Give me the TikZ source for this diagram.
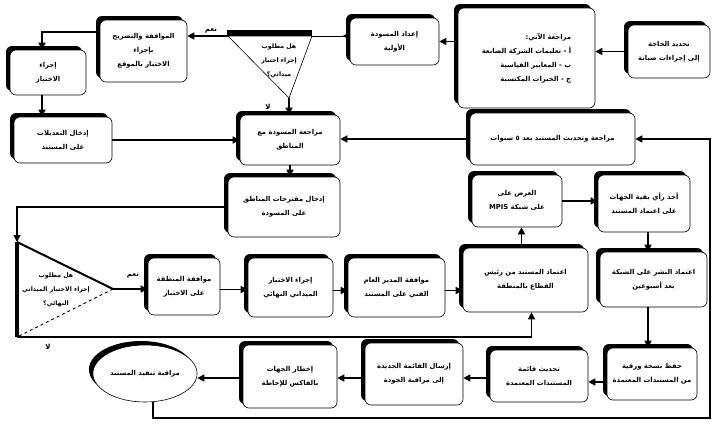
\documentclass[tikz,border=0pt]{standalone}
\usepackage{fontspec}
\newfontfamily\arabicfont[Script=Arabic]{DejaVu Sans}
\TeXXeTstate=1
\usetikzlibrary{arrows.meta,shapes.geometric,shadows}
\newcommand\AR[1]{\beginR #1\endR}
\tikzset{
  box/.style={draw, line width=0.6pt, rounded corners=6pt, fill=white, align=center, inner sep=2pt,
    font=\arabicfont\bfseries\fontsize{6.8}{14}\selectfont,
    drop shadow={shadow xshift=-4pt, shadow yshift=4pt, fill=black, opacity=1}},
  arr/.style={line width=1.4pt, -{Triangle[length=7pt,width=7pt]}},
  lbl/.style={font=\arabicfont\bfseries\fontsize{7}{9}\selectfont, inner sep=1pt},
  tritext/.style={font=\arabicfont\bfseries\fontsize{6.2}{14}\selectfont, inner sep=0pt, align=center}
}
\begin{document}
\begin{tikzpicture}[x=1pt,y=-1pt]
\useasboundingbox[fill=white] (0,0) rectangle (716,426);

% boxes
\node[box, minimum width=82pt, minimum height=53pt] (need) at (669,51.5) {\AR{تحديد الحاجة}\\\AR{إلى إجراءات صيانة}};
\node[box, minimum width=137pt, minimum height=100pt, align=right] (review) at (526.5,58)
  {\AR{مراجعة الآتي:}\\\AR{أ - تعليمات الشركة الصانعة}\\\AR{ب - المعايير القياسية}\\\AR{ج - الخبرات المكتسبة}};
\node[box, minimum width=89pt, minimum height=47pt] (prep) at (394.5,41.5) {\AR{إعداد المسودة}\\\AR{الأولية}};
\node[box, minimum width=87pt, minimum height=62pt] (approve) at (143.5,51) {\AR{الموافقة والتصريح}\\\AR{بإجراء}\\\AR{الاختبار بالموقع}};
\node[box, minimum width=76pt, minimum height=45pt] (test) at (48,72.5) {\AR{إجراء}\\\AR{الاختبار}};
\node[box, minimum width=98pt, minimum height=46pt] (modify) at (63,140) {\AR{إدخال التعديلات}\\\AR{على المستند}};
\node[box, minimum width=100pt, minimum height=50pt] (draftrev) at (290,140) {\AR{مراجعة المسودة مع}\\\AR{المناطق}};
\node[box, minimum width=165pt, minimum height=52pt] (update5) at (552.5,139) {\AR{مراجعة وتحديث المستند بعد ٥ سنوات}};
\node[box, minimum width=112pt, minimum height=60pt] (proposals) at (284,207) {\AR{إدخال مقترحات المناطق}\\\AR{على المسودة}};
\node[box, minimum width=72pt, minimum height=57pt] (regapp) at (184,286.5) {\AR{موافقة المنطقة}\\\AR{على الاختبار}};
\node[box, minimum width=85pt, minimum height=59pt] (finaltest) at (290.5,287.5) {\AR{إجراء الاختبار}\\\AR{الميداني النهائي}};
\node[box, minimum width=97pt, minimum height=59pt] (gm) at (396.5,287.5) {\AR{موافقة المدير العام}\\\AR{الفني على المستند}};
\node[box, minimum width=125pt, minimum height=64pt] (sector) at (525.5,280) {\AR{اعتماد المستند من رئيس}\\\AR{القطاع بالمنطقة}};
\node[box, minimum width=90pt, minimum height=52pt] (mpis) at (517,201) {\AR{العرض على}\\\AR{على شبكة \beginL MPIS\endL}};
\node[box, minimum width=92pt, minimum height=57pt] (opinion) at (644,203.5) {\AR{أخذ رأي بقية الجهات}\\\AR{على اعتماد المستند}};
\node[box, minimum width=107pt, minimum height=55pt] (publish) at (653.5,279.5) {\AR{اعتماد النشر على الشبكة}\\\AR{بعد أسبوعين}};
\node[box, minimum width=90pt, minimum height=52pt] (paper) at (652,374) {\AR{حفظ نسخة ورقية}\\\AR{من المستندات المعتمدة}};
\node[box, minimum width=98pt, minimum height=52pt] (list) at (539,376) {\AR{تحديث قائمة}\\\AR{المستندات المعتمدة}};
\node[box, minimum width=98pt, minimum height=62pt] (send) at (414,374) {\AR{إرسال القائمة الجديدة}\\\AR{إلى مراقبة الجودة}};
\node[box, minimum width=94pt, minimum height=63pt] (fax) at (290,376.5) {\AR{إخطار الجهات}\\\AR{بالفاكس للإحاطة}};
\node[box, ellipse, minimum width=100pt, minimum height=57pt] (monitor) at (145,373.5) {\AR{مراقبة تنفيذ المستند}};

% top decision triangle
\coordinate (T1) at (228,36);
\coordinate (T2) at (312,36);
\coordinate (T3) at (289,98);
\fill (227,30) rectangle (312,35.5);
\draw[line width=0.6pt] (T1) -- (T3) -- (T2) -- cycle;
\node[tritext] (q1) at (279,61) {\AR{هل مطلوب}\\\AR{إجراء اختبار}\\\AR{ميداني؟}};

% left decision triangle
\coordinate (L1) at (17,242);
\coordinate (L2) at (17,337);
\coordinate (L3) at (113,289);
\draw[line width=2pt] (L1) -- (L3);
\draw[line width=0.9pt, dashed] (L3) -- (L2);
\draw[line width=3.2pt] (L1) -- (L2);
\node[tritext] (q2) at (56,290) {\AR{هل مطلوب}\\\AR{إجراء الاختبار الميداني}\\\AR{النهائي؟}};

% connectors
\draw[arr] (need.west) -- (need.west -| review.east);
\draw[arr] (review.west |- prep.east) -- (prep.east);
\draw[line width=1pt, {Triangle[reversed,length=7pt,width=7pt]}-] (prep.west |- T2) -- (T2);
\draw[arr] (T1) -- (T1 -| approve.east);
\node[lbl] (yes1) at (211,31) {\AR{نعم}};
\draw[arr] ([yshift=19pt]approve.west) -| ([xshift=-6pt]test.north);
\draw[arr] ([xshift=-6pt]test.south) -- ([xshift=-6pt]test.south |- modify.north);
\draw[arr] (modify.east) -- (modify.east -| draftrev.west);
\draw[arr] (T3) -- (T3 |- draftrev.north);
\node[lbl] (no1) at (268,107) {\AR{لا}};
\draw[arr] (update5.west) -- (update5.west -| draftrev.east);
\draw[arr] (draftrev.south) -- (draftrev.south |- proposals.north);
\draw[arr] (proposals.west) -| (L1);
\draw[arr] (L3) -- (L3 -| regapp.west);
\node[lbl] (yes2) at (133,276) {\AR{نعم}};
\draw[arr] ([yshift=-3pt]regapp.east) -- ([yshift=-3pt]regapp.east -| finaltest.west);
\draw[arr] ([yshift=-3pt]finaltest.east) -- ([yshift=-3pt]finaltest.east -| gm.west);
\draw[arr] ([yshift=-3pt]gm.east) -- ([yshift=-3pt]gm.east -| sector.west);
\draw[arr] (L2) -| ([xshift=6pt]sector.south);
\node[lbl] (no2) at (48,347) {\AR{لا}};
\draw[arr] ([xshift=-4pt]sector.north) -- ([xshift=-4pt]sector.north |- mpis.south);
\draw[arr] (mpis.east) -- (mpis.east -| opinion.west);
\draw[arr] ([xshift=4pt]opinion.south) -- ([xshift=4pt]opinion.south |- publish.north);
\draw[arr] ([xshift=-5.5pt]publish.south) -- ([xshift=-5.5pt]publish.south |- paper.north);
\draw[arr] ([yshift=-8pt]paper.west) -- ([yshift=-8pt]paper.west -| list.east);
\draw[arr] ([yshift=-2pt]list.west) -- ([yshift=-2pt]list.west -| send.east);
\draw[arr] ([yshift=-4pt]send.west) -- ([yshift=-4pt]send.west -| fax.east);
\draw[arr] ([yshift=-1.5pt]fax.west) -- ([yshift=-1.5pt]fax.west -| monitor.east);
\coordinate (loopBR) at (710,418);
\draw[arr] ([xshift=8pt]monitor.south) |- (loopBR) |- (update5.east);
\end{tikzpicture}
\end{document}
